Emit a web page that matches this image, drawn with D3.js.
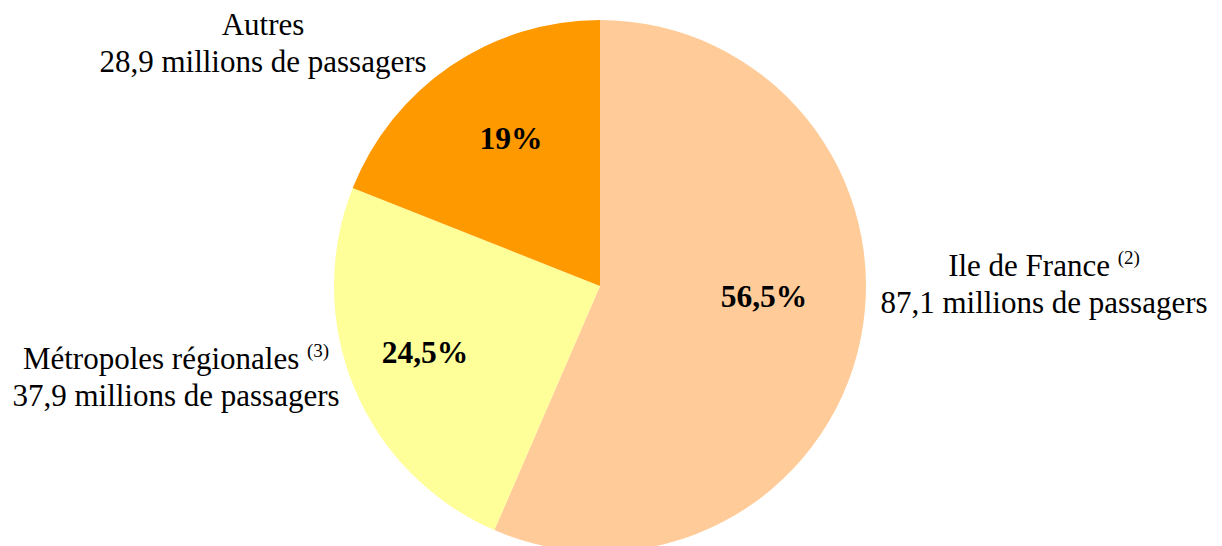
<!DOCTYPE html>
<html>
<head>
<meta charset="utf-8">
<script src="https://cdn.jsdelivr.net/npm/d3@7"></script>
<style>
  body { margin: 0; background: #fff; }
  svg { display: block; font-family: "Liberation Serif", "Times New Roman", serif; }
</style>
</head>
<body>
<div id="chart"></div>
<script>
// data
var regions = ["Ile de France", "Métropoles régionales", "Autres"]
var notes = ["(2)", "(3)", ""]
var shares = [56.5, 24.5, 19]
var passengers = ["87,1", "37,9", "28,9"]
var colors = ["#FFCC99", "#FFFF99", "#FF9900"]

var width = 1222, height = 546
var cx = 600, cy = 286, radius = 266

var svg = d3.select("#chart").append("svg")
	.attr("width", width)
	.attr("height", height)

var g = svg.append("g").attr("transform", "translate(" + cx + "," + cy + ")")

var pie = d3.pie().sort(null).value(function(d){ return d })
var arc = d3.arc().innerRadius(0).outerRadius(radius)
var arcs = pie(shares)

g.selectAll("path")
	.data(arcs)
	.enter()
	.append("path")
	.attr("d", arc)
	.attr("fill", function(d, i){ return colors[i] })

// percentage labels: offsets from the centre, in px
var pctPos = [[164, 10], [-175, 66], [-89, -148]]
g.selectAll(".pct")
	.data(arcs)
	.enter()
	.append("text")
	.attr("class", "pct")
	.attr("x", function(d, i){ return pctPos[i][0] })
	.attr("y", function(d, i){ return pctPos[i][1] })
	.attr("dy", "0.35em")
	.attr("text-anchor", "middle")
	.attr("font-weight", "bold")
	.attr("font-size", 31.5)
	.text(function(d, i){ return String(shares[i]).replace(".", ",") + "%" })

// outside labels, absolute centre x and first baseline
var labelPos = [[1044, 276], [176, 369], [263, 35]]
regions.forEach(function(name, i){
	var t = svg.append("text")
		.attr("x", labelPos[i][0])
		.attr("y", labelPos[i][1])
		.attr("text-anchor", "middle")
		.attr("font-size", 31)
	t.append("tspan").text(name)
	if (notes[i]) {
		t.append("tspan").text("\u00a0")
		t.append("tspan")
			.attr("font-size", 19)
			.attr("dy", -12)
			.text(notes[i])
	}
	svg.append("text")
		.attr("x", labelPos[i][0])
		.attr("y", labelPos[i][1] + 37)
		.attr("text-anchor", "middle")
		.attr("font-size", 31)
		.text(passengers[i] + " millions de passagers")
})
</script>
</body>
</html>
